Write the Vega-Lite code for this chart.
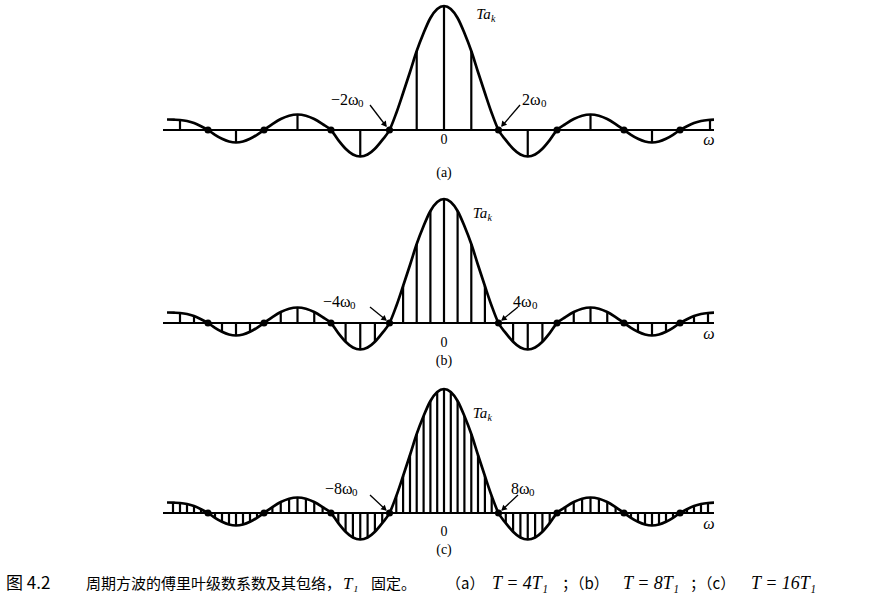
{
"$schema": "https://vega.github.io/schema/vega-lite/v6.json",
"padding": 0,
"spacing": 0,
"config": {"view": {"stroke": null}, "text": {"color": "black"}},
"datasets": {
"env": [
{"w":-277,"v":10.5},{"w":-270,"v":10.3},{"w":-264,"v":10},{"w":-257,"v":9},{"w":-250,"v":7},{"w":-243,"v":3.8},{"w":-236,"v":0},
{"w":-229,"v":-4.8},{"w":-222,"v":-8.8},{"w":-215,"v":-11.5},{"w":-208,"v":-12.5},{"w":-201,"v":-11.5},{"w":-194,"v":-8.8},{"w":-187,"v":-4.8},{"w":-180,"v":0},
{"w":-171.6,"v":5.9},{"w":-163.25,"v":11},{"w":-154.9,"v":14.3},{"w":-146.5,"v":15.5},{"w":-138.1,"v":14.3},{"w":-129.75,"v":11},{"w":-121.4,"v":5.9},{"w":-113,"v":0},
{"w":-105.7,"v":-10.1},{"w":-98.4,"v":-18.7},{"w":-91.1,"v":-24.5},{"w":-83.75,"v":-26.5},{"w":-76.4,"v":-24.5},{"w":-69.1,"v":-18.7},{"w":-61.8,"v":-10.1},{"w":-54.5,"v":0},
{"w":-47.7,"v":17},{"w":-40.9,"v":37},{"w":-34,"v":58},{"w":-27.3,"v":79},{"w":-20.4,"v":97},{"w":-13.6,"v":112},{"w":-6.8,"v":121},{"w":0,"v":124},
{"w":6.8,"v":121},{"w":13.6,"v":112},{"w":20.4,"v":97},{"w":27.3,"v":79},{"w":34,"v":58},{"w":40.9,"v":37},{"w":47.7,"v":17},{"w":54.5,"v":0},
{"w":61.8,"v":-10.1},{"w":69.1,"v":-18.7},{"w":76.4,"v":-24.5},{"w":83.75,"v":-26.5},{"w":91.1,"v":-24.5},{"w":98.4,"v":-18.7},{"w":105.7,"v":-10.1},{"w":113,"v":0},
{"w":121.4,"v":5.9},{"w":129.75,"v":11},{"w":138.1,"v":14.3},{"w":146.5,"v":15.5},{"w":154.9,"v":14.3},{"w":163.25,"v":11},{"w":171.6,"v":5.9},{"w":180,"v":0},
{"w":187,"v":-4.8},{"w":194,"v":-8.8},{"w":201,"v":-11.5},{"w":208,"v":-12.5},{"w":215,"v":-11.5},{"w":222,"v":-8.8},{"w":229,"v":-4.8},{"w":236,"v":0},
{"w":243,"v":3.8},{"w":250,"v":7},{"w":257,"v":9},{"w":264,"v":10},{"w":270,"v":10.3}
],
"sa": [
{"w":-264,"v":10},{"w":-208,"v":-12.5},{"w":-146.5,"v":15.5},{"w":-83.75,"v":-26.5},{"w":-27.3,"v":79},{"w":0,"v":124},
{"w":27.3,"v":79},{"w":83.75,"v":-26.5},{"w":146.5,"v":15.5},{"w":208,"v":-12.5},{"w":266,"v":10}
],
"sb": [
{"w":-264,"v":10},{"w":-250,"v":7},
{"w":-222,"v":-8.8},{"w":-208,"v":-12.5},{"w":-194,"v":-8.8},
{"w":-163.25,"v":11},{"w":-146.5,"v":15.5},{"w":-129.75,"v":11},
{"w":-98.4,"v":-18.7},{"w":-83.75,"v":-26.5},{"w":-69.1,"v":-18.7},
{"w":-40.9,"v":37},{"w":-27.3,"v":79},{"w":-13.6,"v":112},{"w":0,"v":124},
{"w":13.6,"v":112},{"w":27.3,"v":79},{"w":40.9,"v":37},
{"w":69.1,"v":-18.7},{"w":83.75,"v":-26.5},{"w":98.4,"v":-18.7},
{"w":129.75,"v":11},{"w":146.5,"v":15.5},{"w":163.25,"v":11},
{"w":194,"v":-8.8},{"w":208,"v":-12.5},{"w":222,"v":-8.8},
{"w":250,"v":7},{"w":264,"v":10}
],
"sc": [
{"w":-271,"v":10.3},{"w":-264,"v":10},{"w":-257,"v":9},{"w":-250,"v":7},{"w":-243,"v":3.8},
{"w":-229,"v":-4.8},{"w":-222,"v":-8.8},{"w":-215,"v":-11.5},{"w":-208,"v":-12.5},{"w":-201,"v":-11.5},{"w":-194,"v":-8.8},{"w":-187,"v":-4.8},
{"w":-171.6,"v":5.9},{"w":-163.25,"v":11},{"w":-154.9,"v":14.3},{"w":-146.5,"v":15.5},{"w":-138.1,"v":14.3},{"w":-129.75,"v":11},{"w":-121.4,"v":5.9},
{"w":-105.7,"v":-10.1},{"w":-98.4,"v":-18.7},{"w":-91.1,"v":-24.5},{"w":-83.75,"v":-26.5},{"w":-76.4,"v":-24.5},{"w":-69.1,"v":-18.7},{"w":-61.8,"v":-10.1},
{"w":-47.7,"v":17},{"w":-40.9,"v":37},{"w":-34,"v":58},{"w":-27.3,"v":79},{"w":-20.4,"v":97},{"w":-13.6,"v":112},{"w":-6.8,"v":121},{"w":0,"v":124},
{"w":6.8,"v":121},{"w":13.6,"v":112},{"w":20.4,"v":97},{"w":27.3,"v":79},{"w":34,"v":58},{"w":40.9,"v":37},{"w":47.7,"v":17},
{"w":61.8,"v":-10.1},{"w":69.1,"v":-18.7},{"w":76.4,"v":-24.5},{"w":83.75,"v":-26.5},{"w":91.1,"v":-24.5},{"w":98.4,"v":-18.7},{"w":105.7,"v":-10.1},
{"w":121.4,"v":5.9},{"w":129.75,"v":11},{"w":138.1,"v":14.3},{"w":146.5,"v":15.5},{"w":154.9,"v":14.3},{"w":163.25,"v":11},{"w":171.6,"v":5.9},
{"w":187,"v":-4.8},{"w":194,"v":-8.8},{"w":201,"v":-11.5},{"w":208,"v":-12.5},{"w":215,"v":-11.5},{"w":222,"v":-8.8},{"w":229,"v":-4.8},
{"w":243,"v":3.8},{"w":250,"v":7},{"w":257,"v":9},{"w":264,"v":10}
],
"z": [{"w":-236},{"w":-180},{"w":-113},{"w":-54.5},{"w":54.5},{"w":113},{"w":180},{"w":236}]
},
"vconcat": [
{
"width": 874, "height": 190,
"layer": [
{"data":{"values":[{}]},"mark":{"type":"rule","strokeWidth":2,"color":"black"},"encoding":{"x":{"datum":-281,"type":"quantitative","scale":{"domain":[-444,430],"nice":false,"zero":false},"axis":null},"x2":{"datum":270},"y":{"datum":0,"type":"quantitative","scale":{"domain":[-63,127],"nice":false,"zero":false},"axis":null}}},
{"data":{"name":"env"},"mark":{"type":"line","interpolate":"monotone","strokeWidth":2.7,"color":"black"},"encoding":{"x":{"field":"w","type":"quantitative","scale":{"domain":[-444,430],"nice":false,"zero":false},"axis":null},"y":{"field":"v","type":"quantitative","scale":{"domain":[-63,127],"nice":false,"zero":false},"axis":null}}},
{"data":{"name":"sa"},"mark":{"type":"rule","strokeWidth":2.2,"color":"black"},"encoding":{"x":{"field":"w","type":"quantitative","scale":{"domain":[-444,430],"nice":false,"zero":false},"axis":null},"y":{"field":"v","type":"quantitative","scale":{"domain":[-63,127],"nice":false,"zero":false},"axis":null},"y2":{"datum":0}}},
{"data":{"name":"z"},"mark":{"type":"point","filled":true,"size":50,"color":"black","opacity":1},"encoding":{"x":{"field":"w","type":"quantitative","scale":{"domain":[-444,430],"nice":false,"zero":false},"axis":null},"y":{"datum":0,"type":"quantitative","scale":{"domain":[-63,127],"nice":false,"zero":false},"axis":null}}},
{"data":{"values":[{}]},"mark":{"type":"rule","strokeWidth":1.3,"color":"black"},"encoding":{"x":{"datum":-74,"type":"quantitative","scale":{"domain":[-444,430],"nice":false,"zero":false},"axis":null},"y":{"datum":25,"type":"quantitative","scale":{"domain":[-63,127],"nice":false,"zero":false},"axis":null},"x2":{"datum":-58},"y2":{"datum":4}}},
{"data":{"values":[{}]},"mark":{"type":"rule","strokeWidth":1.3,"color":"black"},"encoding":{"x":{"datum":76,"type":"quantitative","scale":{"domain":[-444,430],"nice":false,"zero":false},"axis":null},"y":{"datum":25,"type":"quantitative","scale":{"domain":[-63,127],"nice":false,"zero":false},"axis":null},"x2":{"datum":58},"y2":{"datum":4}}},
{"data":{"values":[{}]},"mark":{"type":"point","shape":"triangle","filled":true,"size":40,"angle":142,"color":"black","opacity":1},"encoding":{"x":{"datum":-59.5,"type":"quantitative","scale":{"domain":[-444,430],"nice":false,"zero":false},"axis":null},"y":{"datum":6,"type":"quantitative","scale":{"domain":[-63,127],"nice":false,"zero":false},"axis":null}}},
{"data":{"values":[{}]},"mark":{"type":"point","shape":"triangle","filled":true,"size":40,"angle":221,"color":"black","opacity":1},"encoding":{"x":{"datum":59.5,"type":"quantitative","scale":{"domain":[-444,430],"nice":false,"zero":false},"axis":null},"y":{"datum":6,"type":"quantitative","scale":{"domain":[-63,127],"nice":false,"zero":false},"axis":null}}},
{"data":{"values":[{}]},"mark":{"type":"text","text":"−2ω","font":"Liberation Serif","fontSize":16,"align":"left","baseline":"middle","color":"black"},"encoding":{"x":{"datum":-113,"type":"quantitative","scale":{"domain":[-444,430],"nice":false,"zero":false},"axis":null},"y":{"datum":30,"type":"quantitative","scale":{"domain":[-63,127],"nice":false,"zero":false},"axis":null}}},
{"data":{"values":[{}]},"mark":{"type":"text","text":"0","font":"Liberation Serif","fontSize":11,"align":"left","baseline":"middle","color":"black"},"encoding":{"x":{"datum":-86,"type":"quantitative","scale":{"domain":[-444,430],"nice":false,"zero":false},"axis":null},"y":{"datum":26,"type":"quantitative","scale":{"domain":[-63,127],"nice":false,"zero":false},"axis":null}}},
{"data":{"values":[{}]},"mark":{"type":"text","text":"2ω","font":"Liberation Serif","fontSize":16,"align":"left","baseline":"middle","color":"black"},"encoding":{"x":{"datum":78,"type":"quantitative","scale":{"domain":[-444,430],"nice":false,"zero":false},"axis":null},"y":{"datum":30,"type":"quantitative","scale":{"domain":[-63,127],"nice":false,"zero":false},"axis":null}}},
{"data":{"values":[{}]},"mark":{"type":"text","text":"0","font":"Liberation Serif","fontSize":11,"align":"left","baseline":"middle","color":"black"},"encoding":{"x":{"datum":97,"type":"quantitative","scale":{"domain":[-444,430],"nice":false,"zero":false},"axis":null},"y":{"datum":26,"type":"quantitative","scale":{"domain":[-63,127],"nice":false,"zero":false},"axis":null}}},
{"data":{"values":[{}]},"mark":{"type":"text","text":"0","font":"Liberation Serif","fontSize":14,"align":"center","baseline":"middle","color":"black"},"encoding":{"x":{"datum":0,"type":"quantitative","scale":{"domain":[-444,430],"nice":false,"zero":false},"axis":null},"y":{"datum":-10,"type":"quantitative","scale":{"domain":[-63,127],"nice":false,"zero":false},"axis":null}}},
{"data":{"values":[{}]},"mark":{"type":"text","text":"(a)","font":"Liberation Serif","fontSize":14,"align":"center","baseline":"middle","color":"black"},"encoding":{"x":{"datum":0,"type":"quantitative","scale":{"domain":[-444,430],"nice":false,"zero":false},"axis":null},"y":{"datum":-43,"type":"quantitative","scale":{"domain":[-63,127],"nice":false,"zero":false},"axis":null}}},
{"data":{"values":[{}]},"mark":{"type":"text","text":"ω","font":"Liberation Serif","fontSize":16,"fontStyle":"italic","align":"center","baseline":"middle","color":"black"},"encoding":{"x":{"datum":265,"type":"quantitative","scale":{"domain":[-444,430],"nice":false,"zero":false},"axis":null},"y":{"datum":-10,"type":"quantitative","scale":{"domain":[-63,127],"nice":false,"zero":false},"axis":null}}},
{"data":{"values":[{}]},"mark":{"type":"text","text":"Ta","font":"Liberation Serif","fontSize":15,"fontStyle":"italic","align":"center","baseline":"middle","color":"black"},"encoding":{"x":{"datum":39.5,"type":"quantitative","scale":{"domain":[-444,430],"nice":false,"zero":false},"axis":null},"y":{"datum":116,"type":"quantitative","scale":{"domain":[-63,127],"nice":false,"zero":false},"axis":null}}},
{"data":{"values":[{}]},"mark":{"type":"text","text":"k","font":"Liberation Serif","fontSize":10,"fontStyle":"italic","align":"left","baseline":"middle","color":"black"},"encoding":{"x":{"datum":47,"type":"quantitative","scale":{"domain":[-444,430],"nice":false,"zero":false},"axis":null},"y":{"datum":111,"type":"quantitative","scale":{"domain":[-63,127],"nice":false,"zero":false},"axis":null}}}
]
},
{
"width": 874, "height": 188,
"layer": [
{"data":{"values":[{}]},"mark":{"type":"rule","strokeWidth":2,"color":"black"},"encoding":{"x":{"datum":-281,"type":"quantitative","scale":{"domain":[-444,430],"nice":false,"zero":false},"axis":null},"x2":{"datum":270},"y":{"datum":0,"type":"quantitative","scale":{"domain":[-60,128],"nice":false,"zero":false},"axis":null}}},
{"data":{"name":"env"},"mark":{"type":"line","interpolate":"monotone","strokeWidth":2.7,"color":"black"},"encoding":{"x":{"field":"w","type":"quantitative","scale":{"domain":[-444,430],"nice":false,"zero":false},"axis":null},"y":{"field":"v","type":"quantitative","scale":{"domain":[-60,128],"nice":false,"zero":false},"axis":null}}},
{"data":{"name":"sb"},"mark":{"type":"rule","strokeWidth":2.2,"color":"black"},"encoding":{"x":{"field":"w","type":"quantitative","scale":{"domain":[-444,430],"nice":false,"zero":false},"axis":null},"y":{"field":"v","type":"quantitative","scale":{"domain":[-60,128],"nice":false,"zero":false},"axis":null},"y2":{"datum":0}}},
{"data":{"name":"z"},"mark":{"type":"point","filled":true,"size":50,"color":"black","opacity":1},"encoding":{"x":{"field":"w","type":"quantitative","scale":{"domain":[-444,430],"nice":false,"zero":false},"axis":null},"y":{"datum":0,"type":"quantitative","scale":{"domain":[-60,128],"nice":false,"zero":false},"axis":null}}},
{"data":{"values":[{}]},"mark":{"type":"rule","strokeWidth":1.3,"color":"black"},"encoding":{"x":{"datum":-74,"type":"quantitative","scale":{"domain":[-444,430],"nice":false,"zero":false},"axis":null},"y":{"datum":16,"type":"quantitative","scale":{"domain":[-60,128],"nice":false,"zero":false},"axis":null},"x2":{"datum":-58},"y2":{"datum":3}}},
{"data":{"values":[{}]},"mark":{"type":"rule","strokeWidth":1.3,"color":"black"},"encoding":{"x":{"datum":74,"type":"quantitative","scale":{"domain":[-444,430],"nice":false,"zero":false},"axis":null},"y":{"datum":16,"type":"quantitative","scale":{"domain":[-60,128],"nice":false,"zero":false},"axis":null},"x2":{"datum":58},"y2":{"datum":3}}},
{"data":{"values":[{}]},"mark":{"type":"point","shape":"triangle","filled":true,"size":40,"angle":129,"color":"black","opacity":1},"encoding":{"x":{"datum":-60,"type":"quantitative","scale":{"domain":[-444,430],"nice":false,"zero":false},"axis":null},"y":{"datum":4.5,"type":"quantitative","scale":{"domain":[-60,128],"nice":false,"zero":false},"axis":null}}},
{"data":{"values":[{}]},"mark":{"type":"point","shape":"triangle","filled":true,"size":40,"angle":231,"color":"black","opacity":1},"encoding":{"x":{"datum":60,"type":"quantitative","scale":{"domain":[-444,430],"nice":false,"zero":false},"axis":null},"y":{"datum":4.5,"type":"quantitative","scale":{"domain":[-60,128],"nice":false,"zero":false},"axis":null}}},
{"data":{"values":[{}]},"mark":{"type":"text","text":"−4ω","font":"Liberation Serif","fontSize":16,"align":"left","baseline":"middle","color":"black"},"encoding":{"x":{"datum":-121,"type":"quantitative","scale":{"domain":[-444,430],"nice":false,"zero":false},"axis":null},"y":{"datum":21,"type":"quantitative","scale":{"domain":[-60,128],"nice":false,"zero":false},"axis":null}}},
{"data":{"values":[{}]},"mark":{"type":"text","text":"0","font":"Liberation Serif","fontSize":11,"align":"left","baseline":"middle","color":"black"},"encoding":{"x":{"datum":-94,"type":"quantitative","scale":{"domain":[-444,430],"nice":false,"zero":false},"axis":null},"y":{"datum":17,"type":"quantitative","scale":{"domain":[-60,128],"nice":false,"zero":false},"axis":null}}},
{"data":{"values":[{}]},"mark":{"type":"text","text":"4ω","font":"Liberation Serif","fontSize":16,"align":"left","baseline":"middle","color":"black"},"encoding":{"x":{"datum":69,"type":"quantitative","scale":{"domain":[-444,430],"nice":false,"zero":false},"axis":null},"y":{"datum":21,"type":"quantitative","scale":{"domain":[-60,128],"nice":false,"zero":false},"axis":null}}},
{"data":{"values":[{}]},"mark":{"type":"text","text":"0","font":"Liberation Serif","fontSize":11,"align":"left","baseline":"middle","color":"black"},"encoding":{"x":{"datum":88,"type":"quantitative","scale":{"domain":[-444,430],"nice":false,"zero":false},"axis":null},"y":{"datum":17,"type":"quantitative","scale":{"domain":[-60,128],"nice":false,"zero":false},"axis":null}}},
{"data":{"values":[{}]},"mark":{"type":"text","text":"0","font":"Liberation Serif","fontSize":14,"align":"center","baseline":"middle","color":"black"},"encoding":{"x":{"datum":0,"type":"quantitative","scale":{"domain":[-444,430],"nice":false,"zero":false},"axis":null},"y":{"datum":-20,"type":"quantitative","scale":{"domain":[-60,128],"nice":false,"zero":false},"axis":null}}},
{"data":{"values":[{}]},"mark":{"type":"text","text":"(b)","font":"Liberation Serif","fontSize":14,"align":"center","baseline":"middle","color":"black"},"encoding":{"x":{"datum":0,"type":"quantitative","scale":{"domain":[-444,430],"nice":false,"zero":false},"axis":null},"y":{"datum":-38,"type":"quantitative","scale":{"domain":[-60,128],"nice":false,"zero":false},"axis":null}}},
{"data":{"values":[{}]},"mark":{"type":"text","text":"ω","font":"Liberation Serif","fontSize":16,"fontStyle":"italic","align":"center","baseline":"middle","color":"black"},"encoding":{"x":{"datum":265,"type":"quantitative","scale":{"domain":[-444,430],"nice":false,"zero":false},"axis":null},"y":{"datum":-11,"type":"quantitative","scale":{"domain":[-60,128],"nice":false,"zero":false},"axis":null}}},
{"data":{"values":[{}]},"mark":{"type":"text","text":"Ta","font":"Liberation Serif","fontSize":15,"fontStyle":"italic","align":"center","baseline":"middle","color":"black"},"encoding":{"x":{"datum":36,"type":"quantitative","scale":{"domain":[-444,430],"nice":false,"zero":false},"axis":null},"y":{"datum":110,"type":"quantitative","scale":{"domain":[-60,128],"nice":false,"zero":false},"axis":null}}},
{"data":{"values":[{}]},"mark":{"type":"text","text":"k","font":"Liberation Serif","fontSize":10,"fontStyle":"italic","align":"left","baseline":"middle","color":"black"},"encoding":{"x":{"datum":43.5,"type":"quantitative","scale":{"domain":[-444,430],"nice":false,"zero":false},"axis":null},"y":{"datum":105,"type":"quantitative","scale":{"domain":[-60,128],"nice":false,"zero":false},"axis":null}}}
]
},
{
"width": 874, "height": 230,
"layer": [
{"data":{"values":[{}]},"mark":{"type":"rule","strokeWidth":2,"color":"black"},"encoding":{"x":{"datum":-281,"type":"quantitative","scale":{"domain":[-444,430],"nice":false,"zero":false},"axis":null},"x2":{"datum":270},"y":{"datum":0,"type":"quantitative","scale":{"domain":[-103,127],"nice":false,"zero":false},"axis":null}}},
{"data":{"name":"env"},"mark":{"type":"line","interpolate":"monotone","strokeWidth":2.7,"color":"black"},"encoding":{"x":{"field":"w","type":"quantitative","scale":{"domain":[-444,430],"nice":false,"zero":false},"axis":null},"y":{"field":"v","type":"quantitative","scale":{"domain":[-103,127],"nice":false,"zero":false},"axis":null}}},
{"data":{"name":"sc"},"mark":{"type":"rule","strokeWidth":2.2,"color":"black"},"encoding":{"x":{"field":"w","type":"quantitative","scale":{"domain":[-444,430],"nice":false,"zero":false},"axis":null},"y":{"field":"v","type":"quantitative","scale":{"domain":[-103,127],"nice":false,"zero":false},"axis":null},"y2":{"datum":0}}},
{"data":{"name":"z"},"mark":{"type":"point","filled":true,"size":50,"color":"black","opacity":1},"encoding":{"x":{"field":"w","type":"quantitative","scale":{"domain":[-444,430],"nice":false,"zero":false},"axis":null},"y":{"datum":0,"type":"quantitative","scale":{"domain":[-103,127],"nice":false,"zero":false},"axis":null}}},
{"data":{"values":[{}]},"mark":{"type":"rule","strokeWidth":1.3,"color":"black"},"encoding":{"x":{"datum":-74,"type":"quantitative","scale":{"domain":[-444,430],"nice":false,"zero":false},"axis":null},"y":{"datum":18,"type":"quantitative","scale":{"domain":[-103,127],"nice":false,"zero":false},"axis":null},"x2":{"datum":-58},"y2":{"datum":3}}},
{"data":{"values":[{}]},"mark":{"type":"rule","strokeWidth":1.3,"color":"black"},"encoding":{"x":{"datum":74,"type":"quantitative","scale":{"domain":[-444,430],"nice":false,"zero":false},"axis":null},"y":{"datum":18,"type":"quantitative","scale":{"domain":[-103,127],"nice":false,"zero":false},"axis":null},"x2":{"datum":58},"y2":{"datum":3}}},
{"data":{"values":[{}]},"mark":{"type":"point","shape":"triangle","filled":true,"size":40,"angle":133,"color":"black","opacity":1},"encoding":{"x":{"datum":-60,"type":"quantitative","scale":{"domain":[-444,430],"nice":false,"zero":false},"axis":null},"y":{"datum":4.8,"type":"quantitative","scale":{"domain":[-103,127],"nice":false,"zero":false},"axis":null}}},
{"data":{"values":[{}]},"mark":{"type":"point","shape":"triangle","filled":true,"size":40,"angle":227,"color":"black","opacity":1},"encoding":{"x":{"datum":60,"type":"quantitative","scale":{"domain":[-444,430],"nice":false,"zero":false},"axis":null},"y":{"datum":4.8,"type":"quantitative","scale":{"domain":[-103,127],"nice":false,"zero":false},"axis":null}}},
{"data":{"values":[{}]},"mark":{"type":"text","text":"−8ω","font":"Liberation Serif","fontSize":16,"align":"left","baseline":"middle","color":"black"},"encoding":{"x":{"datum":-119,"type":"quantitative","scale":{"domain":[-444,430],"nice":false,"zero":false},"axis":null},"y":{"datum":24,"type":"quantitative","scale":{"domain":[-103,127],"nice":false,"zero":false},"axis":null}}},
{"data":{"values":[{}]},"mark":{"type":"text","text":"0","font":"Liberation Serif","fontSize":11,"align":"left","baseline":"middle","color":"black"},"encoding":{"x":{"datum":-92,"type":"quantitative","scale":{"domain":[-444,430],"nice":false,"zero":false},"axis":null},"y":{"datum":20,"type":"quantitative","scale":{"domain":[-103,127],"nice":false,"zero":false},"axis":null}}},
{"data":{"values":[{}]},"mark":{"type":"text","text":"8ω","font":"Liberation Serif","fontSize":16,"align":"left","baseline":"middle","color":"black"},"encoding":{"x":{"datum":67,"type":"quantitative","scale":{"domain":[-444,430],"nice":false,"zero":false},"axis":null},"y":{"datum":24,"type":"quantitative","scale":{"domain":[-103,127],"nice":false,"zero":false},"axis":null}}},
{"data":{"values":[{}]},"mark":{"type":"text","text":"0","font":"Liberation Serif","fontSize":11,"align":"left","baseline":"middle","color":"black"},"encoding":{"x":{"datum":85,"type":"quantitative","scale":{"domain":[-444,430],"nice":false,"zero":false},"axis":null},"y":{"datum":20,"type":"quantitative","scale":{"domain":[-103,127],"nice":false,"zero":false},"axis":null}}},
{"data":{"values":[{}]},"mark":{"type":"text","text":"0","font":"Liberation Serif","fontSize":14,"align":"center","baseline":"middle","color":"black"},"encoding":{"x":{"datum":0,"type":"quantitative","scale":{"domain":[-444,430],"nice":false,"zero":false},"axis":null},"y":{"datum":-19,"type":"quantitative","scale":{"domain":[-103,127],"nice":false,"zero":false},"axis":null}}},
{"data":{"values":[{}]},"mark":{"type":"text","text":"(c)","font":"Liberation Serif","fontSize":14,"align":"center","baseline":"middle","color":"black"},"encoding":{"x":{"datum":0,"type":"quantitative","scale":{"domain":[-444,430],"nice":false,"zero":false},"axis":null},"y":{"datum":-37,"type":"quantitative","scale":{"domain":[-103,127],"nice":false,"zero":false},"axis":null}}},
{"data":{"values":[{}]},"mark":{"type":"text","text":"ω","font":"Liberation Serif","fontSize":16,"fontStyle":"italic","align":"center","baseline":"middle","color":"black"},"encoding":{"x":{"datum":265,"type":"quantitative","scale":{"domain":[-444,430],"nice":false,"zero":false},"axis":null},"y":{"datum":-11,"type":"quantitative","scale":{"domain":[-103,127],"nice":false,"zero":false},"axis":null}}},
{"data":{"values":[{}]},"mark":{"type":"text","text":"Ta","font":"Liberation Serif","fontSize":15,"fontStyle":"italic","align":"center","baseline":"middle","color":"black"},"encoding":{"x":{"datum":36,"type":"quantitative","scale":{"domain":[-444,430],"nice":false,"zero":false},"axis":null},"y":{"datum":100,"type":"quantitative","scale":{"domain":[-103,127],"nice":false,"zero":false},"axis":null}}},
{"data":{"values":[{}]},"mark":{"type":"text","text":"k","font":"Liberation Serif","fontSize":10,"fontStyle":"italic","align":"left","baseline":"middle","color":"black"},"encoding":{"x":{"datum":43.5,"type":"quantitative","scale":{"domain":[-444,430],"nice":false,"zero":false},"axis":null},"y":{"datum":95,"type":"quantitative","scale":{"domain":[-103,127],"nice":false,"zero":false},"axis":null}}},
{"data":{"values":[{}]},"mark":{"type":"text","text":"图 4.2","font":"Noto Sans CJK SC","fontSize":17,"align":"left","baseline":"middle","color":"black"},"encoding":{"x":{"datum":-438,"type":"quantitative","scale":{"domain":[-444,430],"nice":false,"zero":false},"axis":null},"y":{"datum":-71,"type":"quantitative","scale":{"domain":[-103,127],"nice":false,"zero":false},"axis":null}}},
{"data":{"values":[{}]},"mark":{"type":"text","text":"周期方波的傅里叶级数系数及其包络，","font":"Noto Sans CJK SC","fontSize":15,"align":"left","baseline":"middle","color":"black"},"encoding":{"x":{"datum":-358,"type":"quantitative","scale":{"domain":[-444,430],"nice":false,"zero":false},"axis":null},"y":{"datum":-71,"type":"quantitative","scale":{"domain":[-103,127],"nice":false,"zero":false},"axis":null}}},
{"data":{"values":[{}]},"mark":{"type":"text","text":"T₁","font":"Liberation Serif, DejaVu Serif","fontSize":17,"fontStyle":"italic","align":"left","baseline":"middle","color":"black"},"encoding":{"x":{"datum":-101,"type":"quantitative","scale":{"domain":[-444,430],"nice":false,"zero":false},"axis":null},"y":{"datum":-71,"type":"quantitative","scale":{"domain":[-103,127],"nice":false,"zero":false},"axis":null}}},
{"data":{"values":[{}]},"mark":{"type":"text","text":"固定。","font":"Noto Sans CJK SC","fontSize":15,"align":"left","baseline":"middle","color":"black"},"encoding":{"x":{"datum":-73,"type":"quantitative","scale":{"domain":[-444,430],"nice":false,"zero":false},"axis":null},"y":{"datum":-71,"type":"quantitative","scale":{"domain":[-103,127],"nice":false,"zero":false},"axis":null}}},
{"data":{"values":[{}]},"mark":{"type":"text","text":"（a）","font":"Noto Sans CJK SC","fontSize":15,"align":"left","baseline":"middle","color":"black"},"encoding":{"x":{"datum":2,"type":"quantitative","scale":{"domain":[-444,430],"nice":false,"zero":false},"axis":null},"y":{"datum":-71,"type":"quantitative","scale":{"domain":[-103,127],"nice":false,"zero":false},"axis":null}}},
{"data":{"values":[{}]},"mark":{"type":"text","text":"T = 4T₁","font":"Liberation Serif, DejaVu Serif","fontSize":18,"fontStyle":"italic","align":"left","baseline":"middle","color":"black"},"encoding":{"x":{"datum":48,"type":"quantitative","scale":{"domain":[-444,430],"nice":false,"zero":false},"axis":null},"y":{"datum":-71,"type":"quantitative","scale":{"domain":[-103,127],"nice":false,"zero":false},"axis":null}}},
{"data":{"values":[{}]},"mark":{"type":"text","text":"；（b）","font":"Noto Sans CJK SC","fontSize":15,"align":"left","baseline":"middle","color":"black"},"encoding":{"x":{"datum":118,"type":"quantitative","scale":{"domain":[-444,430],"nice":false,"zero":false},"axis":null},"y":{"datum":-71,"type":"quantitative","scale":{"domain":[-103,127],"nice":false,"zero":false},"axis":null}}},
{"data":{"values":[{}]},"mark":{"type":"text","text":"T = 8T₁","font":"Liberation Serif, DejaVu Serif","fontSize":18,"fontStyle":"italic","align":"left","baseline":"middle","color":"black"},"encoding":{"x":{"datum":179,"type":"quantitative","scale":{"domain":[-444,430],"nice":false,"zero":false},"axis":null},"y":{"datum":-71,"type":"quantitative","scale":{"domain":[-103,127],"nice":false,"zero":false},"axis":null}}},
{"data":{"values":[{}]},"mark":{"type":"text","text":"；（c）","font":"Noto Sans CJK SC","fontSize":15,"align":"left","baseline":"middle","color":"black"},"encoding":{"x":{"datum":246,"type":"quantitative","scale":{"domain":[-444,430],"nice":false,"zero":false},"axis":null},"y":{"datum":-71,"type":"quantitative","scale":{"domain":[-103,127],"nice":false,"zero":false},"axis":null}}},
{"data":{"values":[{}]},"mark":{"type":"text","text":"T = 16T₁","font":"Liberation Serif, DejaVu Serif","fontSize":18,"fontStyle":"italic","align":"left","baseline":"middle","color":"black"},"encoding":{"x":{"datum":307,"type":"quantitative","scale":{"domain":[-444,430],"nice":false,"zero":false},"axis":null},"y":{"datum":-71,"type":"quantitative","scale":{"domain":[-103,127],"nice":false,"zero":false},"axis":null}}}
]
}
]
}
